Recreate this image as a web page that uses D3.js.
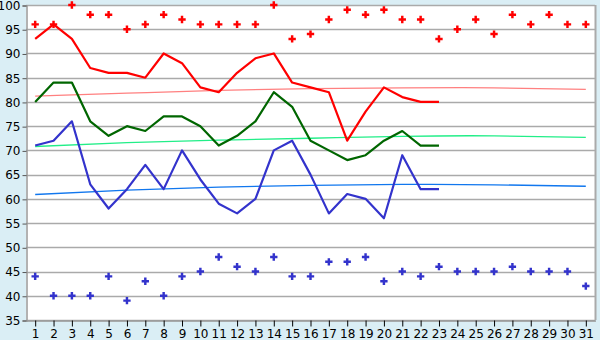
<!DOCTYPE html>
<html>
<head>
<meta charset="utf-8">
<script src="https://cdn.jsdelivr.net/npm/d3@7"></script>
<style>
  body { margin: 0; background: #daeef5; }
  svg { display: block; }
  text { font-family: "DejaVu Sans", sans-serif; font-size: 12px; fill: #000; }
</style>
</head>
<body>
<svg id="chart"></svg>
<script>
var days = d3.range(1, 32);
var yTicks = [35, 40, 45, 50, 55, 60, 65, 70, 75, 80, 85, 90, 95, 100];

// daily highs (red dots) and lows (blue dots)
var maxPoints = [96, 96, 100, 98, 98, 95, 96, 98, 97, 96, 96, 96, 96, 100, 93, 94, 97, 99, 98, 99, 97, 97, 93, 95, 97, 94, 98, 96, 98, 96, 96];
var minPoints = [44, 40, 40, 40, 44, 39, 43, 40, 44, 45, 48, 46, 45, 48, 44, 44, 47, 47, 48, 43, 45, 44, 46, 45, 45, 45, 46, 45, 45, 45, 42];

// lines, days 1..23
var redLine = [93, 96, 93, 87, 86, 86, 85, 90, 88, 83, 82, 86, 89, 90, 84, 83, 82, 72, 78, 83, 81, 80, 80];
var greenLine = [80, 84, 84, 76, 73, 75, 74, 77, 77, 75, 71, 73, 76, 82, 79, 72, 70, 68, 69, 72, 74, 71, 71];
var blueLine = [71, 72, 76, 63, 58, 62, 67, 62, 70, 64, 59, 57, 60, 70, 72, 65, 57, 61, 60, 56, 69, 62, 62];

// trend curves, sampled at these days
var trendDays = [1, 6, 11, 16, 21, 26, 31];
var redTrend = [81.2, 81.8, 82.4, 82.75, 82.9, 82.9, 82.6];
var greenTrend = [70.8, 71.6, 72.1, 72.5, 72.9, 73.0, 72.7];
var blueTrend = [60.9, 61.8, 62.4, 62.8, 63.0, 62.9, 62.6];

var width = 600, height = 340;
var plotLeft = 26, plotRight = 595, plotTop = 5, plotBottom = 320;

var svg = d3.select('#chart')
  .attr('width', width)
  .attr('height', height);

var x = d3.scaleBand()
  .domain(days)
  .range([plotLeft, plotRight])
  .padding(0);

var y = d3.scaleLinear()
  .domain([35, 100])
  .range([plotBottom, plotTop]);

function cx(d) { return x(d) + x.bandwidth() / 2; }

// plot background
svg.append('rect')
  .attr('x', plotLeft)
  .attr('y', plotTop)
  .attr('width', plotRight - plotLeft)
  .attr('height', plotBottom - plotTop)
  .attr('fill', 'white');

// gridlines
svg.append('g')
  .selectAll('line')
  .data(yTicks)
  .enter().append('line')
  .attr('x1', plotLeft)
  .attr('x2', plotRight)
  .attr('y1', d => Math.round(y(d)) + 0.5)
  .attr('y2', d => Math.round(y(d)) + 0.5)
  .attr('stroke', '#aaaaaa')
  .attr('stroke-width', 1.5);

// right border
svg.append('line')
  .attr('x1', plotRight + 0.5).attr('x2', plotRight + 0.5)
  .attr('y1', plotTop).attr('y2', plotBottom)
  .attr('stroke', '#aaaaaa')
  .attr('stroke-width', 2);

// y axis
var yAxis = svg.append('g')
  .attr('transform', 'translate(' + (plotLeft + 0.5) + ',0.5)')
  .call(d3.axisLeft(y).tickValues(yTicks).tickSize(4).tickPadding(2));
yAxis.select('.domain').attr('stroke', '#999999').attr('stroke-width', 1.5);
yAxis.selectAll('.tick line').attr('stroke', '#555555');
yAxis.selectAll('.tick text').attr('font-size', 12).attr('font-family', '"DejaVu Sans", sans-serif');

// x axis
var xAxis = svg.append('g')
  .attr('transform', 'translate(0.5,' + (plotBottom + 0.5) + ')')
  .call(d3.axisBottom(x).tickSize(6).tickSizeOuter(0).tickPadding(3));
xAxis.select('.domain').attr('stroke', '#999999').attr('stroke-width', 1.5);
xAxis.selectAll('.tick line').attr('stroke', '#000000');
xAxis.selectAll('.tick text').attr('font-size', 12).attr('font-family', '"DejaVu Sans", sans-serif');

// trend curves
var trendLine = d3.line()
  .x((d, i) => cx(trendDays[i]))
  .y(d => y(d))
  .curve(d3.curveNatural);

[[redTrend, '#ff8080'], [greenTrend, '#22ee88'], [blueTrend, '#1177ee']].forEach(function(t) {
  svg.append('path')
    .attr('d', trendLine(t[0]))
    .attr('fill', 'none')
    .attr('stroke', t[1])
    .attr('stroke-width', 1.3);
});

// main lines
var valueLine = d3.line()
  .x((d, i) => cx(days[i]))
  .y(d => y(d));

[[greenLine, '#006600'], [blueLine, '#3333cc'], [redLine, '#ff0000']].forEach(function(s) {
  svg.append('path')
    .attr('d', valueLine(s[0]))
    .attr('fill', 'none')
    .attr('stroke', s[1])
    .attr('stroke-width', 2.2)
    .attr('stroke-linejoin', 'round');
});

// point markers
var cross = d3.symbol().type(d3.symbolCross).size(30);

[[maxPoints, '#ff0000'], [minPoints, '#3333cc']].forEach(function(p) {
  svg.append('g')
    .selectAll('path')
    .data(p[0])
    .enter().append('path')
    .attr('d', cross)
    .attr('transform', (d, i) => 'translate(' + cx(days[i]) + ',' + y(d) + ')')
    .attr('fill', p[1]);
});
</script>
</body>
</html>
